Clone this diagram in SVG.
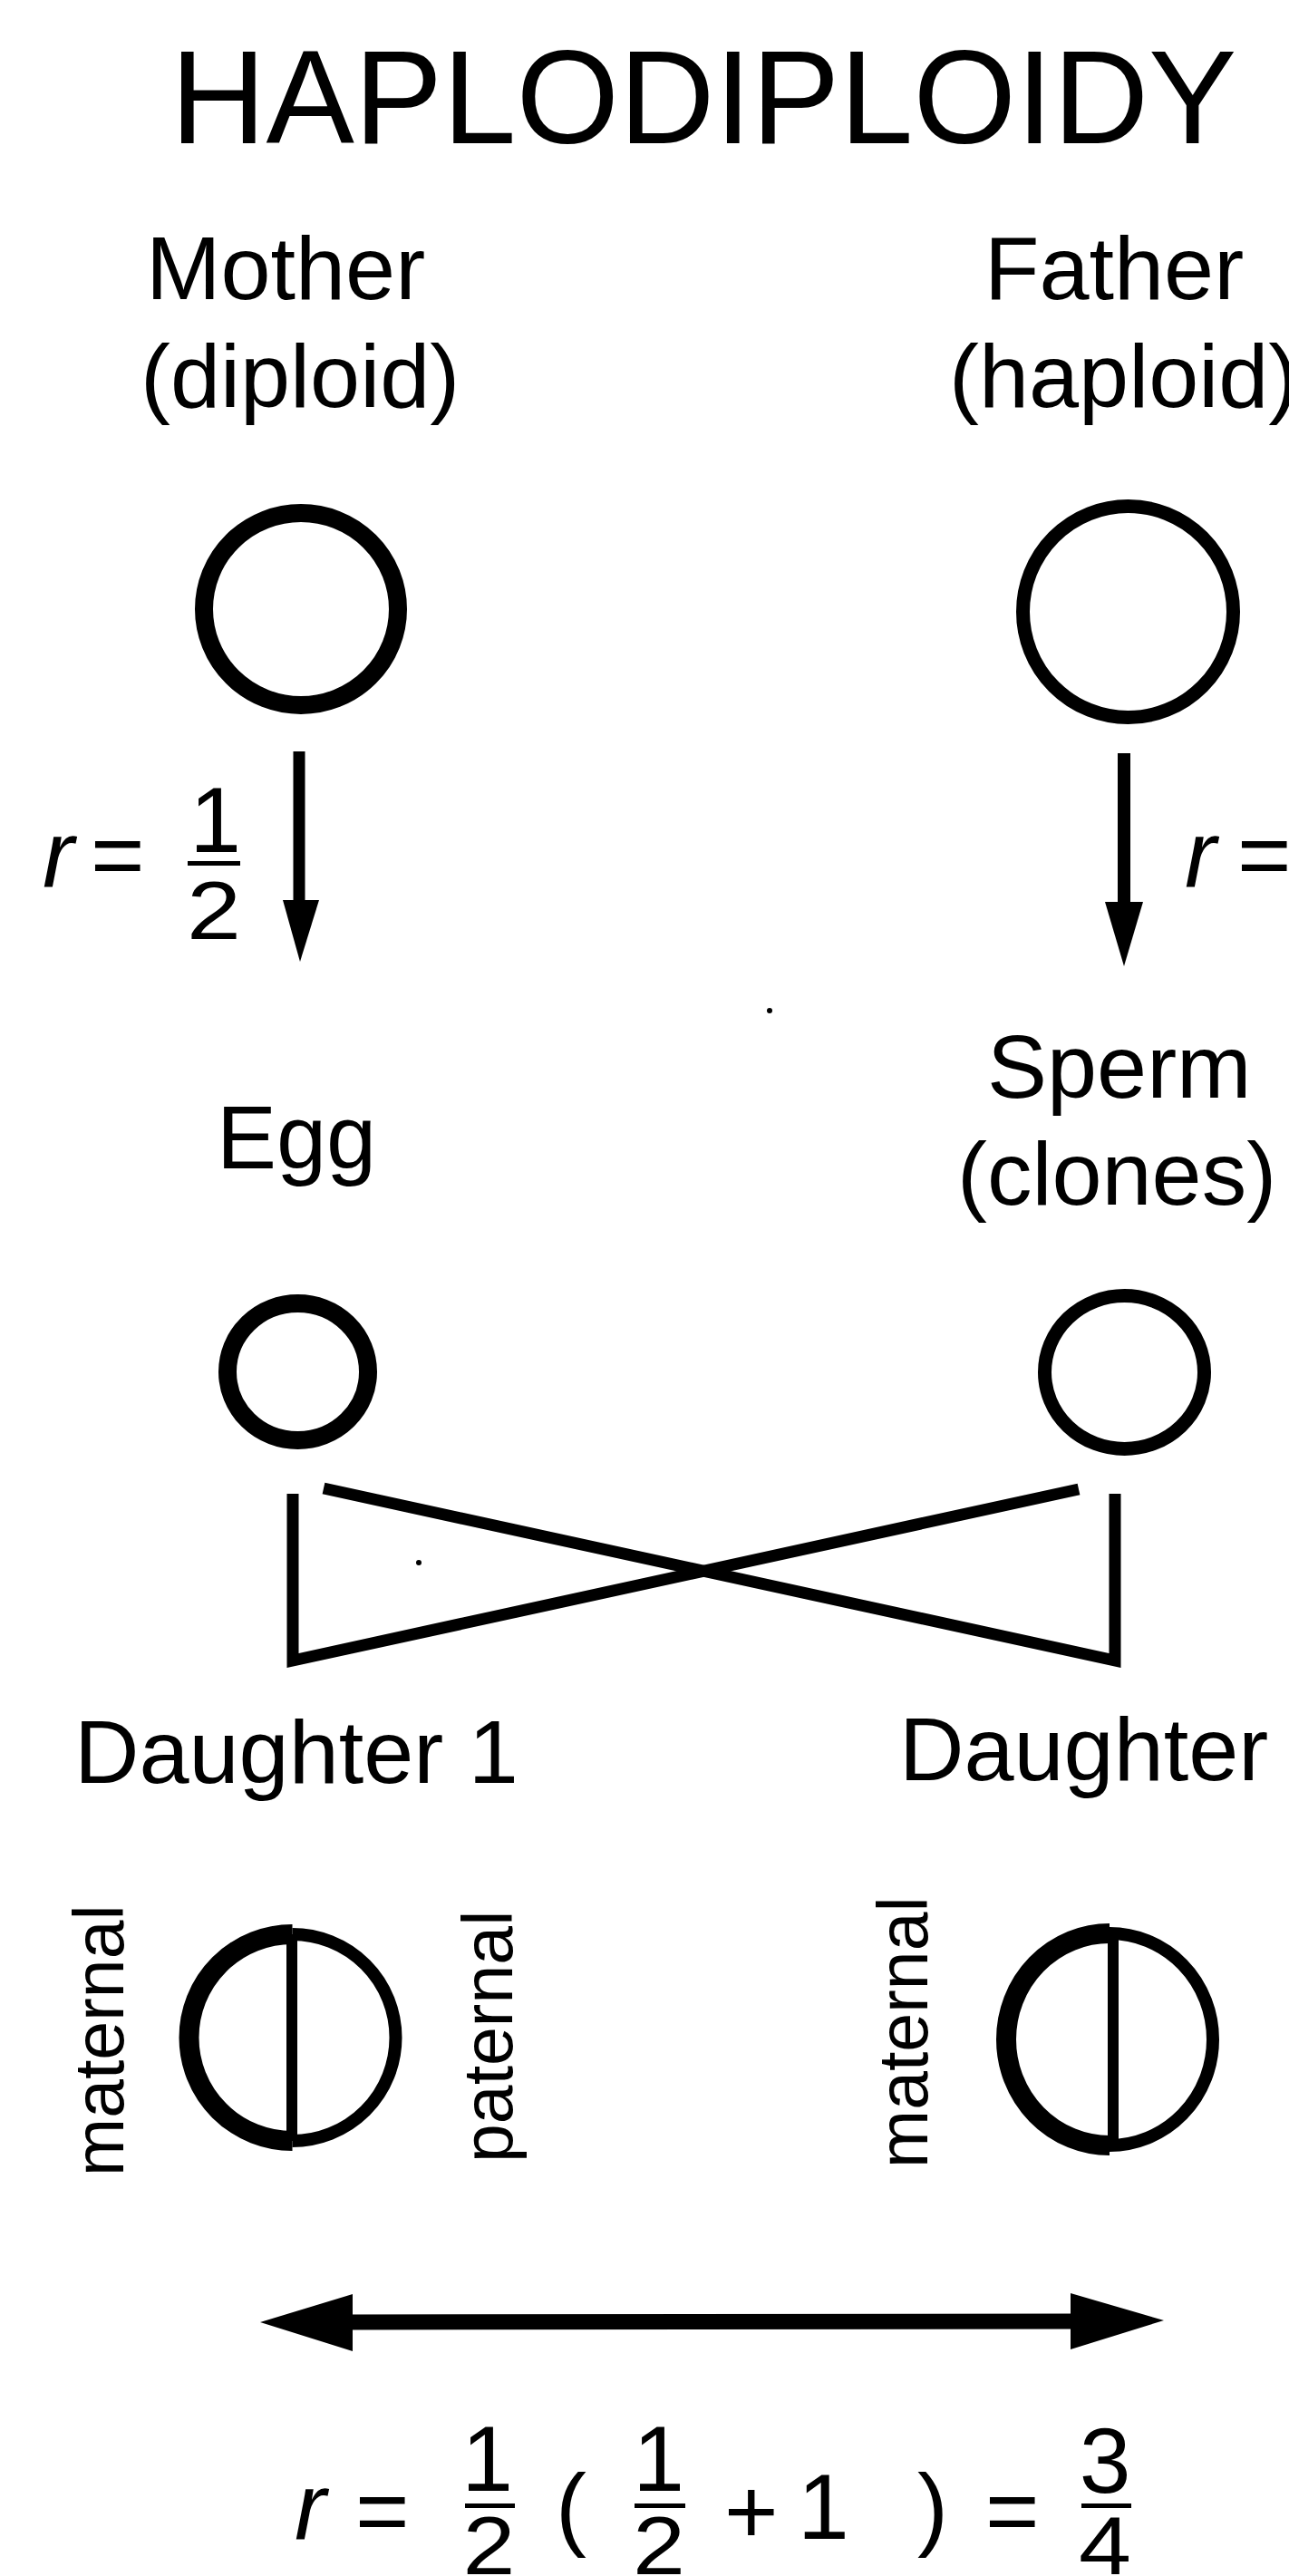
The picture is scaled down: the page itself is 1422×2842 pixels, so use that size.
<svg xmlns="http://www.w3.org/2000/svg" width="1422" height="2842" viewBox="0 0 1422 2842">
<style>
  text { font-family: "Liberation Sans", Arial, Helvetica, sans-serif; fill: #000; }
  .title { font-size: 146px; }
  .lbl { font-size: 99px; }
  .side { font-size: 77px; }
  .math { font-size: 102px; }
  .den { font-size: 90px; }
  .it { font-style: italic; font-size: 104px; }
  .mid { text-anchor: middle; }
  .ring { fill: none; stroke: #000; }
  .ln { fill: none; stroke: #000; stroke-linejoin: miter; }
</style>
<rect width="1422" height="2842" fill="#fff"/>

<g id="title"><text class="title" x="188" y="158">HAPLODIPLOIDY</text></g>

<g id="node-mother">
  <text class="lbl" x="161" y="330">Mother</text>
  <text class="lbl" x="155" y="449">(diploid)</text>
  <ellipse class="ring" cx="332" cy="672" rx="107" ry="106" stroke-width="20"/>
</g>

<g id="node-father">
  <text class="lbl" x="1086" y="330">Father</text>
  <text class="lbl" x="1047" y="449">(haploid)</text>
  <ellipse class="ring" cx="1244.5" cy="675" rx="116" ry="116.5" stroke-width="15"/>
</g>

<g id="node-egg">
  <text class="lbl" x="239" y="1289">Egg</text>
  <ellipse class="ring" cx="328.5" cy="1513.5" rx="77.5" ry="75.5" stroke-width="20"/>
</g>

<g id="node-sperm">
  <text class="lbl" x="1089" y="1211">Sperm</text>
  <text class="lbl" x="1056" y="1329">(clones)</text>
  <ellipse class="ring" cx="1240.5" cy="1514" rx="88" ry="84.5" stroke-width="15"/>
</g>

<g id="node-daughter1">
  <text class="lbl" x="82" y="1967">Daughter 1</text>
  <text class="side" transform="translate(136,2401) rotate(-90)">maternal</text>
  <text class="side" transform="translate(565,2386) rotate(-90)">paternal</text>
  <path class="ring" d="M322.5,2134 A114,114 0 0 0 322.5,2362" stroke-width="22"/>
  <path class="ring" d="M322.5,2134 A114,114 0 0 1 322.5,2362" stroke-width="14"/>
  <line class="ln" x1="322" y1="2134" x2="322" y2="2362" stroke-width="12"/>
</g>

<g id="node-daughter2">
  <text class="lbl" x="992" y="1964">Daughter</text>
  <text class="side" transform="translate(1023,2392) rotate(-90)">maternal</text>
  <path class="ring" d="M1224,2133 A114,117 0 0 0 1224,2367" stroke-width="22"/>
  <path class="ring" d="M1224,2133 A114,117 0 0 1 1224,2367" stroke-width="14"/>
  <line class="ln" x1="1228" y1="2133" x2="1228" y2="2367" stroke-width="12"/>
</g>

<g id="connectors">
  <line class="ln" x1="330" y1="829" x2="330" y2="1000" stroke-width="13"/>
  <polygon points="312,993 352,993 331,1061" fill="#000"/>
  <line class="ln" x1="1240" y1="831" x2="1240" y2="1002" stroke-width="14"/>
  <polygon points="1219,995 1261,995 1240,1066" fill="#000"/>
  <polyline class="ln" points="323,1648 323,1832 1190,1643" stroke-width="13"/>
  <polyline class="ln" points="357,1642 1230,1832 1230,1648" stroke-width="13"/>
  <line class="ln" x1="380" y1="2562" x2="1190" y2="2561" stroke-width="17"/>
  <polygon points="287,2562 389,2531 389,2594" fill="#000"/>
  <polygon points="1284,2560 1181,2530 1181,2592" fill="#000"/>
</g>

<g id="label-r-left">
  <text class="it" x="47" y="978">r</text>
  <text class="math" x="100" y="978">=</text>
  <text class="math mid" x="237.5" y="940">1</text>
  <rect x="207" y="950" width="58" height="5" fill="#000"/>
  <text class="den mid" x="236" y="1036" textLength="60" lengthAdjust="spacingAndGlyphs">2</text>
</g>

<g id="label-r-right">
  <text class="it" x="1307" y="978">r</text>
  <text class="math" x="1365" y="978">=</text>
</g>

<g id="formula">
  <text class="it" x="325" y="2801">r</text>
  <text class="math" x="392" y="2805">=</text>
  <text class="math mid" x="537.5" y="2748">1</text>
  <rect x="513" y="2762" width="55" height="5" fill="#000"/>
  <text class="den mid" x="539.5" y="2840" textLength="58" lengthAdjust="spacingAndGlyphs">2</text>
  <text class="math" x="613" y="2801">(</text>
  <text class="math mid" x="726.5" y="2748">1</text>
  <rect x="700" y="2762" width="56" height="5" fill="#000"/>
  <text class="den mid" x="727" y="2840" textLength="58" lengthAdjust="spacingAndGlyphs">2</text>
  <text class="math" x="799" y="2806">+</text>
  <text class="math" x="880" y="2801">1</text>
  <text class="math" x="1012" y="2801">)</text>
  <text class="math" x="1087" y="2805">=</text>
  <text class="math mid" x="1219" y="2750">3</text>
  <rect x="1193" y="2762" width="55" height="5" fill="#000"/>
  <text class="den mid" x="1219" y="2840" textLength="58" lengthAdjust="spacingAndGlyphs">4</text>
</g>

<circle cx="849" cy="1115" r="3" fill="#000"/>
<circle cx="462" cy="1724" r="3" fill="#000"/>
</svg>
